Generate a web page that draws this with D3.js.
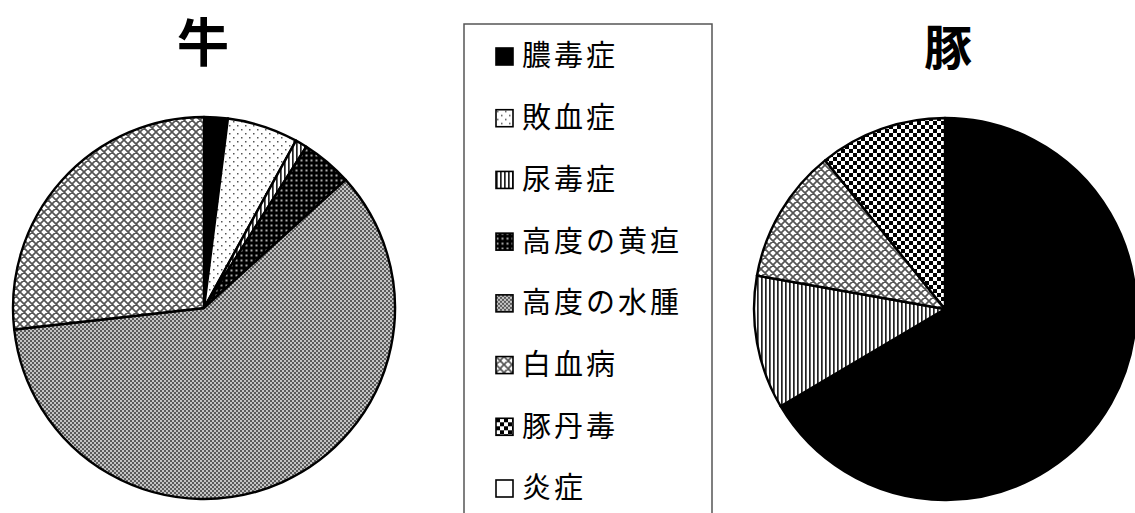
<!DOCTYPE html>
<html><head><meta charset="utf-8">
<script src="https://cdn.jsdelivr.net/npm/d3@7"></script>
<style>
html,body{margin:0;padding:0;background:#fff;overflow:hidden}
svg{display:block}
text{font-family:"Noto Sans CJK JP","Noto Sans CJK SC",sans-serif}
</style></head>
<body>
<script>
const categories = ["膿毒症","敗血症","尿毒症","高度の黄疸","高度の水腫","白血病","豚丹毒","炎症"];
const patternKeys = ["solid","dots","vstripe","darkdots","finecheck","crosshatch","bigcheck","blank"];
const cowValues = [2.0, 6.0, 1.0, 4.3, 59.9, 26.8, 0, 0];
const pigValues = [66.5, 0, 11.3, 0, 0, 11.4, 10.8, 0];
const chartTitles = ["牛","豚"];

const W = 1135, H = 513;
const svg = d3.select("body").append("svg").attr("width", W).attr("height", H);
const defs = svg.append("defs");

function pat(id, w, h, build){
  const p = defs.append("pattern").attr("id", id).attr("patternUnits","userSpaceOnUse")
    .attr("width", w).attr("height", h);
  build(p);
}
pat("solid", 4, 4, p => p.append("rect").attr("width",4).attr("height",4).attr("fill","#000"));
pat("blank", 4, 4, p => p.append("rect").attr("width",4).attr("height",4).attr("fill","#fff"));
pat("dots", 8, 8, p => {
  p.append("rect").attr("width",8).attr("height",8).attr("fill","#fff");
  p.append("rect").attr("x",1).attr("y",1).attr("width",1.5).attr("height",1.5).attr("fill","#555");
  p.append("rect").attr("x",5).attr("y",5).attr("width",1.5).attr("height",1.5).attr("fill","#555");
});
pat("vstripe", 4, 4, p => {
  p.append("rect").attr("width",4).attr("height",4).attr("fill","#fff");
  p.append("rect").attr("x",0).attr("width",1.7).attr("height",4).attr("fill","#222");
});
pat("darkdots", 5, 5, p => {
  p.append("rect").attr("width",5).attr("height",5).attr("fill","#000");
  p.append("rect").attr("x",1.5).attr("y",1.5).attr("width",2).attr("height",2).attr("fill","#aaa");
});
pat("finecheck", 4, 4, p => {
  p.append("rect").attr("width",4).attr("height",4).attr("fill","#5a5a5a");
  p.append("rect").attr("x",0).attr("y",0).attr("width",2).attr("height",2).attr("fill","#c4c4c4");
  p.append("rect").attr("x",2).attr("y",2).attr("width",2).attr("height",2).attr("fill","#c4c4c4");
});
pat("crosshatch", 8, 8, p => {
  p.append("rect").attr("width",8).attr("height",8).attr("fill","#fff");
  p.append("path").attr("d","M0,0L8,8M8,0L0,8M-1,7L1,9M7,-1L9,1M-1,1L1,-1M7,9L9,7")
    .attr("stroke","#555").attr("stroke-width",1.7);
});
pat("bigcheck", 8, 8, p => {
  p.append("rect").attr("width",8).attr("height",8).attr("fill","#fff");
  p.append("rect").attr("x",0).attr("y",0).attr("width",4).attr("height",4).attr("fill","#000");
  p.append("rect").attr("x",4).attr("y",4).attr("width",4).attr("height",4).attr("fill","#000");
});

const pie = d3.pie().sort(null).value(d => d.v);
const radius = 191;
const arc = d3.arc().innerRadius(0).outerRadius(radius);

function drawPie(cx, cy, values, title, tx, ty, fs){
  const data = values.map((v,i) => ({v, i})).filter(d => d.v > 0);
  const g = svg.append("g").attr("transform", `translate(${cx},${cy})`);
  g.selectAll("path").data(pie(data)).join("path")
    .attr("d", arc)
    .attr("fill", d => `url(#${patternKeys[d.data.i]})`)
    .attr("stroke", "#000").attr("stroke-width", 2.4).attr("stroke-linejoin","round");
  svg.append("text").attr("x", tx).attr("y", ty).attr("text-anchor","middle")
    .attr("font-size", fs).attr("font-weight","bold").attr("fill","#000").text(title);
}
drawPie(204, 308, cowValues, chartTitles[0], 203, 62, 52);
drawPie(945, 309, pigValues, chartTitles[1], 948, 65, 48);

// legend
const lg = svg.append("g");
lg.append("rect").attr("x", 464).attr("y", 24).attr("width", 248).attr("height", 520)
  .attr("fill","#fff").attr("stroke","#555").attr("stroke-width",1.5);
const ly = d3.scalePoint().domain(categories).range([56, 488]);
const rows = lg.selectAll("g.row").data(categories).join("g").attr("class","row")
  .attr("transform", d => `translate(0,${ly(d)})`);
rows.append("rect").attr("x", 496).attr("y", -8).attr("width", 17).attr("height", 17)
  .attr("fill", (d,i) => `url(#${patternKeys[i]})`).attr("stroke","#000").attr("stroke-width",1.6);
rows.append("text").attr("x", 522).attr("y", 0).attr("dy","0.36em")
  .attr("font-size", 29).attr("fill","#000").attr("letter-spacing", 3).text(d => d);
</script>
</body></html>
